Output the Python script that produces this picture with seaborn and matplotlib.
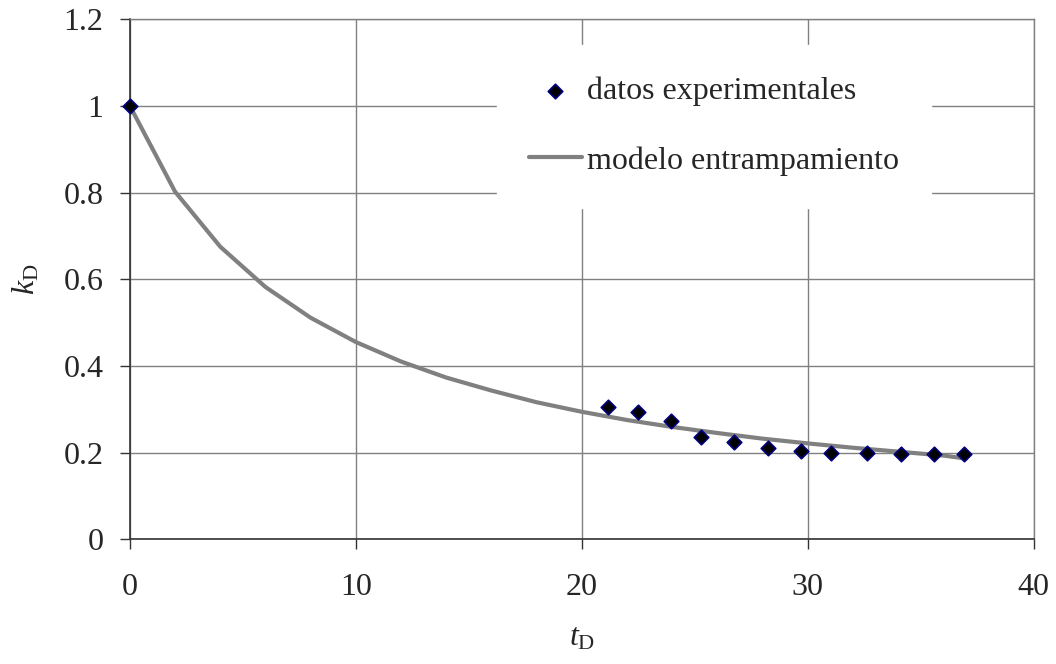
import numpy as np
import pandas as pd
import matplotlib
matplotlib.use("Agg")
import matplotlib.pyplot as plt
import seaborn as sns

# datos experimentales
t_exp = [0, 21.15, 22.48, 23.94, 25.27, 26.73, 28.23, 29.69, 31.02, 32.61, 34.12, 35.58, 36.90]
k_exp = [1.0, 0.305, 0.293, 0.272, 0.235, 0.224, 0.210, 0.203, 0.198, 0.198, 0.197, 0.197, 0.197]

# modelo entrampamiento
t_mod = [0, 2, 4, 6, 8, 10, 12, 14, 16, 18, 20, 22, 24, 26, 28, 30, 32, 34, 36, 37]
k_mod = [1.0, 0.802, 0.675, 0.582, 0.511, 0.455, 0.410, 0.373, 0.343, 0.316, 0.294,
         0.275, 0.259, 0.245, 0.232, 0.221, 0.211, 0.202, 0.193, 0.186]

df_exp = pd.DataFrame({"tD": t_exp, "kD": k_exp})
df_mod = pd.DataFrame({"tD": t_mod, "kD": k_mod})

sns.set_style("white")
plt.rcParams["font.family"] = ["Liberation Serif", "DejaVu Serif"]
plt.rcParams["mathtext.fontset"] = "custom"
plt.rcParams["mathtext.rm"] = "Liberation Serif"
plt.rcParams["mathtext.it"] = "Liberation Serif:italic"

fs = 23

fig = plt.figure(figsize=(10.56, 6.64), dpi=100)
ax = fig.add_axes([0.123, 0.188, 0.856, 0.783])

sns.lineplot(data=df_mod, x="tD", y="kD", ax=ax, color="#808080", linewidth=3.0,
             label="modelo entrampamiento", zorder=3)
sns.scatterplot(data=df_exp, x="tD", y="kD", ax=ax, marker="D", s=55,
                color="black", edgecolor="#000080", linewidth=1.2,
                label="datos experimentales", zorder=4, clip_on=False)

ax.set_xlim(0, 40)
ax.set_ylim(0, 1.2)
ax.set_xticks([0, 10, 20, 30, 40])
ax.set_yticks([0, 0.2, 0.4, 0.6, 0.8, 1.0, 1.2])
ax.set_yticklabels(["0", "0.2", "0.4", "0.6", "0.8", "1", "1.2"])
ax.grid(True, color="#808080", linewidth=1.0)
ax.set_axisbelow(True)

for side in ["top", "right"]:
    ax.spines[side].set_color("#808080")
    ax.spines[side].set_linewidth(1.0)
for side in ["left", "bottom"]:
    ax.spines[side].set_color("#333333")
    ax.spines[side].set_linewidth(1.2)

ax.tick_params(axis="both", labelsize=fs, direction="out", length=7, width=1,
               color="#333333", left=True, bottom=True)
ax.tick_params(axis="y", pad=12)
ax.tick_params(axis="x", pad=17)

ax.set_xlabel(r"$t_{\mathrm{D}}$", fontsize=fs, labelpad=16)
ax.set_ylabel(r"$k_{\mathrm{D}}$", fontsize=fs, labelpad=16)

handles, labels = ax.get_legend_handles_labels()
order = [labels.index("datos experimentales"), labels.index("modelo entrampamiento")]
leg = ax.legend([handles[i] for i in order], [labels[i] for i in order],
                loc="upper left", bbox_to_anchor=(0.406, 0.951),
                fontsize=fs, frameon=True, fancybox=False, framealpha=1.0,
                edgecolor="white", facecolor="white", labelspacing=1.25,
                handlelength=1.65, handletextpad=0.18, borderpad=1.0,
                borderaxespad=0)

fig.savefig("out.png", dpi=100)
